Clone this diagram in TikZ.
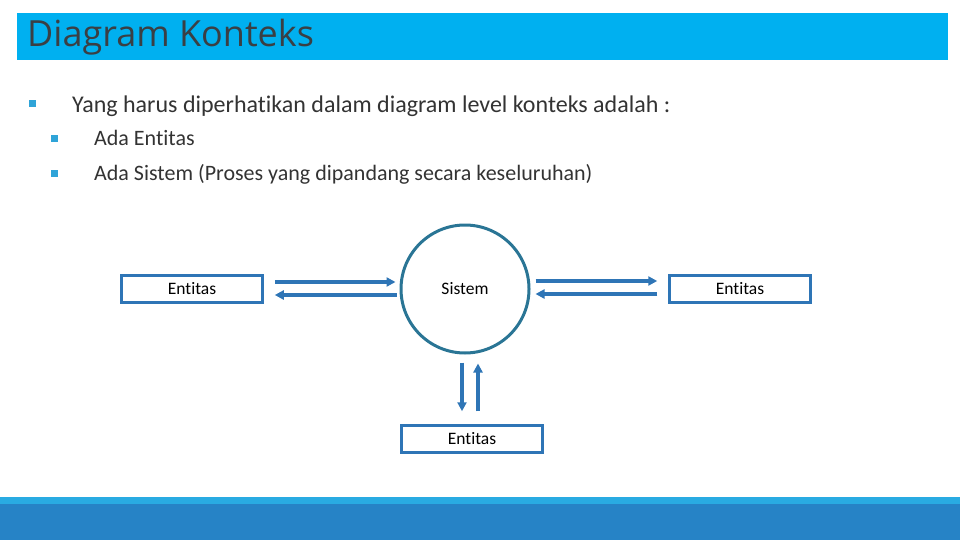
\documentclass[tikz,border=0pt]{standalone}
\usepackage{fontspec}
\setmainfont{Carlito}[Ligatures={NoCommon}]
\newfontfamily\titlefont{Open Sans}
\usepackage{tikz}
\usetikzlibrary{arrows.meta,positioning}
\definecolor{barcyan}{HTML}{00B0F0}
\definecolor{titlegray}{HTML}{3A3F44}
\definecolor{bulletblue}{HTML}{2FA4D8}
\definecolor{boxblue}{HTML}{2E75B6}
\definecolor{circleteal}{HTML}{2A7595}
\definecolor{footlight}{HTML}{29ABE2}
\definecolor{footdark}{HTML}{2683C6}

\begin{document}
\begin{tikzpicture}[x=1pt, y=-1pt,
    entity/.style={draw=boxblue, line width=2.5pt, minimum width=141pt, minimum height=27pt, inner sep=0pt, font=\fontsize{17.5}{20}\selectfont},
    flow/.style={draw=boxblue, line width=3.5pt, -{Triangle[length=9pt,width=9pt]}},
    bulletsq/.style={fill=bulletblue, minimum size=7pt, inner sep=0pt},
    bodytext/.style={anchor=base west, inner sep=0pt, font=\fontsize{24}{28}\selectfont, text=black!80},
    subtext/.style={bodytext, font=\fontsize{22}{26}\selectfont}]
    \useasboundingbox (0,0) rectangle (960,540);

    % title bar
    \fill[barcyan] (17,13) rectangle (948,60);
    \node[anchor=base west, inner sep=0pt, text=titlegray, font=\titlefont\fontsize{36}{40}\selectfont] (title) at (27,47) {Diagram Konteks};

    % bullets
    \node[bulletsq] (b1) at (32,104) {};
    \node[bodytext] (t1) at (72,113) {Yang harus diperhatikan dalam diagram level konteks adalah :};
    \node[bulletsq] (b2) at (54,139) {};
    \node[subtext] (t2) at (94,146) {Ada Entitas};
    \node[bulletsq] (b3) at (54,174) {};
    \node[subtext] (t3) at (94,181) {Ada Sistem (Proses yang dipandang secara keseluruhan)};

    % context diagram
    \node[draw=circleteal, circle, line width=3pt, minimum size=128pt, inner sep=0pt, font=\fontsize{17.5}{20}\selectfont] (sys) at (465,289) {Sistem};
    \node[entity] (entL) at (192,289) {Entitas};
    \node[entity] (entR) at (740,289) {Entitas};
    \node[entity] (entB) at (472,439) {Entitas};

    \draw[flow, shorten <=11pt, shorten >=4pt] ([yshift=7pt]entL.east) -- ([yshift=7pt]sys.west);
    \draw[flow, shorten <=3pt, shorten >=11pt] ([yshift=-6pt]sys.west) -- ([yshift=-6pt]entL.east);
    \draw[flow, shorten <=5pt, shorten >=11pt] ([yshift=8pt]sys.east) -- ([yshift=8pt]entR.west);
    \draw[flow, shorten <=11pt, shorten >=5pt] ([yshift=-5pt]entR.west) -- ([yshift=-5pt]sys.east);
    \draw[flow, shorten <=8pt, shorten >=13pt] ([xshift=-3pt]sys.south) -- ([xshift=-10pt]entB.north);
    \draw[flow, shorten <=13pt, shorten >=9pt] ([xshift=6pt]entB.north) -- ([xshift=13pt]sys.south);

    % footer
    \fill[footlight] (0,497) rectangle (960,504);
    \fill[footdark] (0,504) rectangle (960,540);
\end{tikzpicture}
\end{document}
